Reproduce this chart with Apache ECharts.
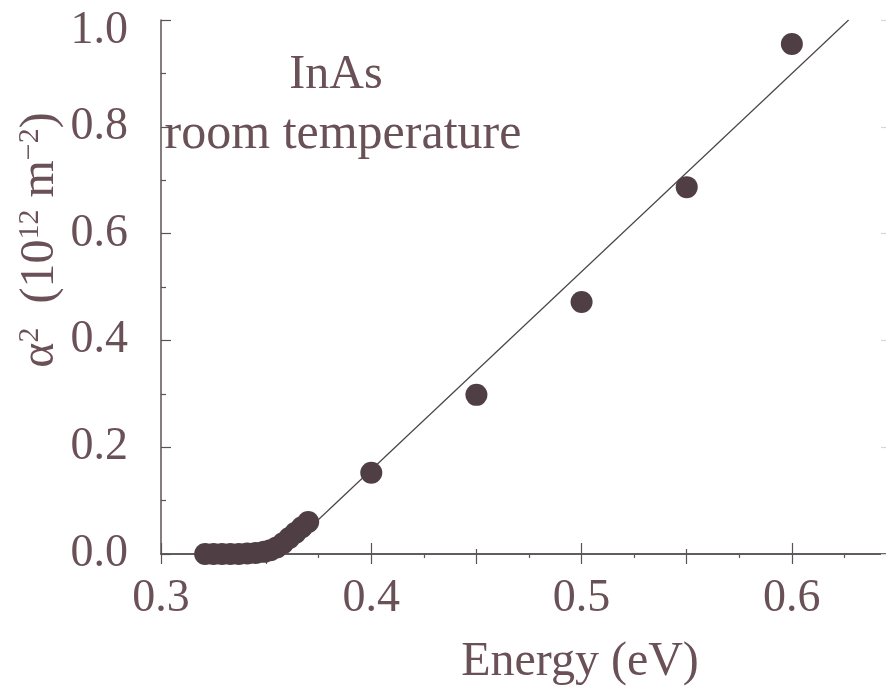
<!DOCTYPE html>
<html>
<head>
<meta charset="utf-8">
<script src="https://cdn.jsdelivr.net/npm/echarts@6/dist/echarts.min.js"></script>
<style>
  html, body { margin: 0; padding: 0; background: #fff; }
  #chart { width: 886px; height: 686px; }
</style>
</head>
<body>
<div id="chart"></div>
<script>
// measured points (eV, 10^12 m^-2)
var energy = [0.321, 0.325, 0.329, 0.333, 0.337, 0.341, 0.345, 0.349, 0.352, 0.355,
              0.358, 0.361, 0.364, 0.367, 0.370, 0.40, 0.45, 0.50, 0.55, 0.60];
var alpha2 = [0.000, 0.000, 0.000, 0.000, 0.000, 0.001, 0.002, 0.004, 0.007, 0.012,
              0.020, 0.030, 0.040, 0.050, 0.060, 0.152, 0.298, 0.472, 0.687, 0.955];
// linear fit, end points
var fitEnergy = [0.3575, 0.627];
var fitAlpha2 = [0.0, 1.0];

var xTicks = ['0.3', '0.4', '0.5', '0.6'];
var yTicks = ['0.0', '0.2', '0.4', '0.6', '0.8', '1.0'];

var font = 'Liberation Serif';
var textColor = '#6a5157';
var axisColor = '#5a5256';

function pairs(xs, ys) {
    var out = [];
    for (var i = 0; i < xs.length; i++) out.push([xs[i], ys[i]]);
    return out;
}

var chart = echarts.init(document.getElementById('chart'));

chart.setOption({
    animation: false,
    backgroundColor: '#fff',
    grid: { left: 161, top: 20, width: 736, height: 534, containLabel: false, outerBoundsMode: 'none' },
    xAxis: [{
        type: 'value', position: 'bottom', min: 0.3, max: 0.65, interval: 0.1,
        axisLine: { lineStyle: { color: axisColor, width: 1.5 } },
        axisTick: { inside: true, length: 11, lineStyle: { color: axisColor, width: 1.2 } },
        minorTick: { show: true, splitNumber: 2, length: 5, lineStyle: { color: axisColor, width: 1.2 } },
        splitLine: { show: false },
        axisLabel: {
            margin: 22, fontFamily: font, fontSize: 46, color: textColor,
            formatter: function (v) {
                var s = v.toFixed(1);
                return xTicks.indexOf(s) >= 0 ? s : '';
            }
        }
    }, {
        type: 'value', position: 'top', min: 0.3, max: 0.65, interval: 0.05,
        axisLine: { lineStyle: { color: axisColor, width: 1.5 } },
        axisTick: { inside: true, length: 10, lineStyle: { color: axisColor, width: 1.2 } },
        minorTick: { show: true, splitNumber: 2, length: 4, lineStyle: { color: axisColor, width: 1.2 } },
        splitLine: { show: false },
        axisLabel: { show: false }
    }],
    yAxis: [{
        type: 'value', position: 'left', min: 0, max: 1, interval: 0.2,
        axisLine: { show: true, lineStyle: { color: axisColor, width: 1.5 } },
        axisTick: { show: true, inside: true, length: 10, lineStyle: { color: axisColor, width: 1.2 } },
        minorTick: { show: true, splitNumber: 2, length: 5, lineStyle: { color: axisColor, width: 1.2 } },
        splitLine: { show: false },
        axisLabel: {
            margin: 33, fontFamily: font, fontSize: 46, color: textColor,
            formatter: function (v) {
                var s = v.toFixed(1);
                if (yTicks.indexOf(s) < 0) return '';
                return s === '1.0' ? '{t|' + s + '}' : s;
            },
            rich: { t: { fontFamily: font, fontSize: 46, color: textColor, padding: [22, 0, 0, 0] } }
        }
    }, {
        type: 'value', position: 'right', min: 0, max: 1, interval: 0.2,
        axisLine: { show: true, lineStyle: { color: axisColor, width: 1.5 } },
        axisTick: { show: true, inside: true, length: 16, lineStyle: { color: '#c6dede', width: 1.2 } },
        splitLine: { show: false },
        axisLabel: { show: false }
    }],
    graphic: [{
        type: 'text', x: 336, y: 75,
        style: { text: 'InAs', font: '48px "' + font + '"', fill: textColor, align: 'center', verticalAlign: 'middle' }
    }, {
        type: 'text', x: 343, y: 135,
        style: { text: 'room temperature', font: '50px "' + font + '"', fill: textColor, align: 'center', verticalAlign: 'middle' }
    }, {
        type: 'text', x: 40, y: 240, rotation: Math.PI / 2,
        style: {
            text: '{n|α}{s|2}{n|  (10}{s|12}{n| m}{s|−2}{n|)}',
            align: 'center', verticalAlign: 'middle',
            rich: {
                n: { fontFamily: font, fontSize: 48, lineHeight: 50, fill: textColor },
                s: { fontFamily: font, fontSize: 30, lineHeight: 50, verticalAlign: 'top', fill: textColor }
            }
        }
    }, {
        type: 'text', x: 580, y: 662,
        style: { text: 'Energy (eV)', font: '48px "' + font + '"', fill: textColor, align: 'center', verticalAlign: 'middle' }
    }],
    series: [{
        type: 'line',
        data: pairs(fitEnergy, fitAlpha2),
        showSymbol: false,
        lineStyle: { color: '#4a4446', width: 1.2 },
        z: 2
    }, {
        type: 'scatter',
        data: pairs(energy, alpha2),
        symbol: 'circle',
        symbolSize: 22,
        itemStyle: { color: '#4f3f45', opacity: 1 },
        z: 3
    }]
});
</script>
</body>
</html>
